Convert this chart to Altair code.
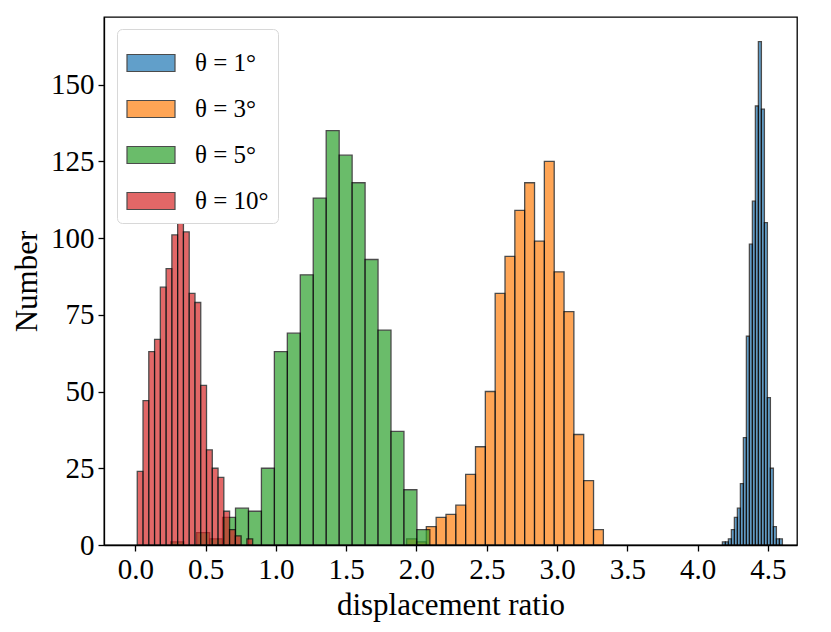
import altair as alt
import pandas as pd

labels = ["θ = 1°", "θ = 3°", "θ = 5°", "θ = 10°"]
colors = ["#1f77b4", "#ff7f0e", "#2ca02c", "#d62728"]

# histogram bin starts and widths (data units)
starts = [4.177, 1.930, 0.251, 0.0128]
widths = [0.02135, 0.0700, 0.0922, 0.04106]

counts_1 = [1, 1, 2, 5, 9, 12, 20, 35, 68, 98, 112, 143, 164, 142, 105, 48, 25, 6, 2, 2]
counts_3 = [2, 1, 6, 9, 10, 13, 23, 32, 50, 82, 94, 109, 118, 99, 125, 89, 76, 36, 21, 5]
counts_5 = [1, 0, 4, 2, 9, 12, 11, 25, 63, 69, 88, 113, 135, 127, 118, 93, 70, 37, 18, 5]
counts_10 = [24, 47, 63, 67, 84, 90, 101, 110, 102, 82, 79, 52, 31, 25, 22, 11, 5, 3, 0, 2]

x_ticks = [0.0, 0.5, 1.0, 1.5, 2.0, 2.5, 3.0, 3.5, 4.0, 4.5]
y_ticks = [0, 25, 50, 75, 100, 125, 150]

rows = []
for lab, s, w, cnts in zip(labels, starts, widths, [counts_1, counts_3, counts_5, counts_10]):
    for i, c in enumerate(cnts):
        if c > 0:
            rows.append({"series": lab, "lo": s + i * w, "hi": s + (i + 1) * w,
                         "count": c, "base": 0})
df = pd.DataFrame(rows)

FONT = "Liberation Serif"

chart = alt.Chart(df).mark_rect(opacity=0.7, stroke="black", strokeWidth=1.3).encode(
    x=alt.X("lo:Q",
            scale=alt.Scale(domain=[-0.224, 4.708], nice=False, zero=False),
            axis=alt.Axis(values=x_ticks, format=".1f", title="displacement ratio")),
    x2="hi:Q",
    y=alt.Y("count:Q",
            scale=alt.Scale(domain=[0, 172], nice=False, zero=True),
            axis=alt.Axis(values=y_ticks, title="Number")),
    y2="base:Q",
    color=alt.Color("series:N",
                    scale=alt.Scale(domain=labels, range=colors),
                    legend=alt.Legend(title=None, orient="none", legendX=13, legendY=12)),
).properties(
    width=693, height=528,
    autosize=alt.AutoSizeParams(type="none"),
    padding={"left": 96, "top": 9, "right": 12, "bottom": 78},
).configure_view(
    stroke="black", strokeWidth=1.3
).configure_axis(
    grid=False,
    labelFont=FONT, labelFontSize=29, labelColor="black",
    titleFont=FONT, titleFontSize=31, titleColor="black", titleFontWeight="normal",
    domainColor="black", domainWidth=1.3,
    tickColor="black", tickSize=6, tickWidth=1.3,
    labelPadding=4,
).configure_axisX(
    titlePadding=6,
).configure_axisY(
    titlePadding=7,
).configure_legend(
    labelFont=FONT, labelFontSize=25, labelColor="black",
    fillColor="white", strokeColor="#d8d8d8", cornerRadius=5, padding=9,
    symbolType="M-1,-0.354H1V0.354H-1Z", symbolSize=2304,
    symbolOpacity=0.7, symbolStrokeColor="black", symbolStrokeWidth=1.2,
    labelOffset=19, rowPadding=8,
)

chart.save("out.html", embed_options={"renderer": "svg", "actions": False})
